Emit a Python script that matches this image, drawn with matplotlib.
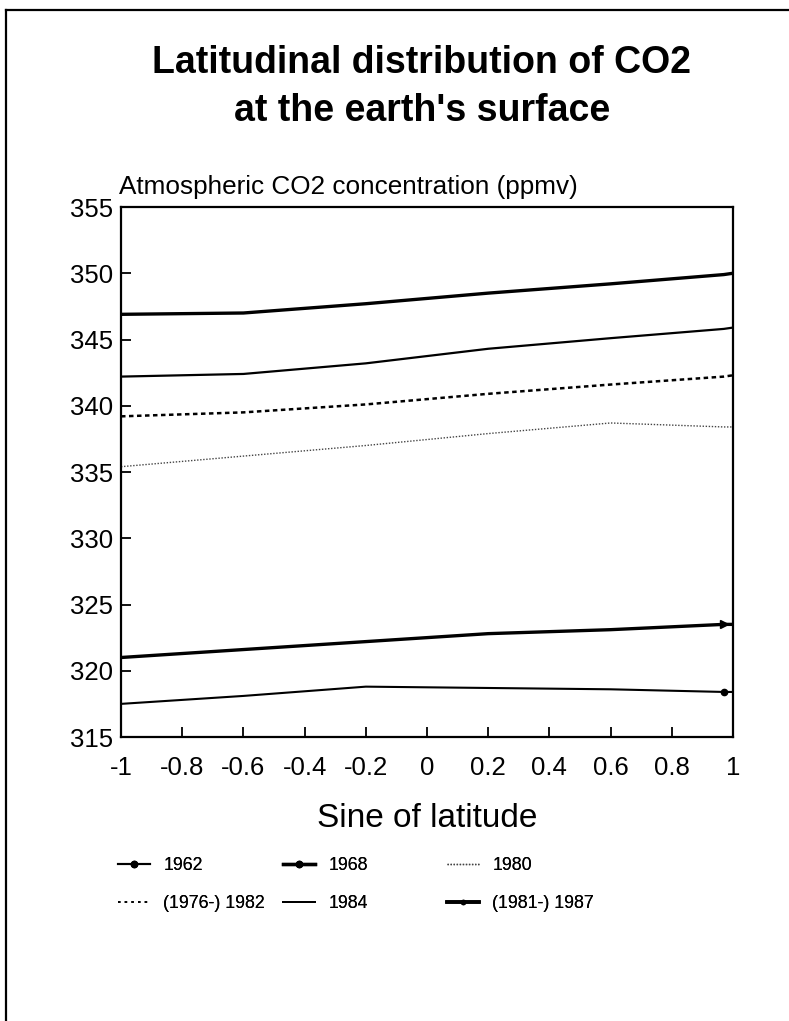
import matplotlib
matplotlib.use("Agg")
import matplotlib.pyplot as plt
from matplotlib.lines import Line2D

plt.rcParams['font.family'] = ['Liberation Sans', 'DejaVu Sans']

# Data
sine_lat = [-1.0, -0.6, -0.2, 0.2, 0.6, 0.97, 1.0]
co2_1962 = [317.5, 318.1, 318.8, 318.7, 318.6, 318.4, 318.4]
co2_1968 = [321.0, 321.6, 322.2, 322.8, 323.1, 323.5, 323.5]
co2_1980 = [335.4, 336.2, 337.0, 337.9, 338.7, 338.4, 338.4]
co2_1982 = [339.2, 339.5, 340.1, 340.9, 341.6, 342.2, 342.3]
co2_1984 = [342.2, 342.4, 343.2, 344.3, 345.1, 345.8, 345.9]
co2_1987 = [346.9, 347.0, 347.7, 348.5, 349.2, 349.9, 350.0]
labels = ["1962", "1968", "1980", "(1976-) 1982", "1984", "(1981-) 1987"]
xticks = [-1, -0.8, -0.6, -0.4, -0.2, 0, 0.2, 0.4, 0.6, 0.8, 1]
xticklabels = ["-1", "-0.8", "-0.6", "-0.4", "-0.2", "0", "0.2", "0.4", "0.6", "0.8", "1"]
yticks = [315, 320, 325, 330, 335, 340, 345, 350, 355]

W, H = 789, 1021
fig = plt.figure(figsize=(W / 100, H / 100), dpi=100)
ax = fig.add_axes([121 / W, 1 - 737 / H, (733 - 121) / W, (737 - 207) / H])

l62, = ax.plot(sine_lat, co2_1962, color='black', lw=1.5, marker='o', ms=4.5, markevery=[5])
l68, = ax.plot(sine_lat, co2_1968, color='black', lw=2.4, marker='>', ms=6, markevery=[5])
l80, = ax.plot(sine_lat, co2_1980, color='#444444', lw=1.0, ls=(0, (1, 1.2)))
l82, = ax.plot(sine_lat, co2_1982, color='black', lw=1.8, ls=(0, (1.8, 1.4)))
l84, = ax.plot(sine_lat, co2_1984, color='black', lw=1.6)
l87, = ax.plot(sine_lat, co2_1987, color='black', lw=2.4)

ax.set_xlim(-1, 1)
ax.set_ylim(315, 355)
ax.set_xticks(xticks)
ax.set_xticklabels(xticklabels)
ax.set_yticks(yticks)
ax.tick_params(axis='both', direction='in', length=7, width=1.3, labelsize=18.5, colors='black')
ax.tick_params(axis='x', pad=14)
ax.tick_params(axis='y', pad=6)
for s in ax.spines.values():
    s.set_linewidth(1.6)

ax.set_xlabel("Sine of latitude", fontsize=24, labelpad=16)

fig.text(119 / W, 1 - 187 / H, "Atmospheric CO2 concentration (ppmv)", fontsize=18.8,
         ha='left', va='center')

fig.text(422 / W, 1 - 73 / H, "Latitudinal distribution of CO2", fontsize=27,
         fontweight='bold', ha='center', va='baseline')
fig.text(422 / W, 1 - 121 / H, "at the earth's surface", fontsize=27,
         fontweight='bold', ha='center', va='baseline')

# legend: three columns placed individually
h62 = Line2D([], [], color='black', lw=1.5, marker='o', ms=4.5, markevery=[1])
h68 = Line2D([], [], color='black', lw=2.4, marker='o', ms=4.5, markevery=[1])
h80 = Line2D([], [], color='#444444', lw=1.0, ls=(0, (1, 1.2)))
h82 = Line2D([], [], color='black', lw=1.2, ls=(0, (1.5, 2.5)))
h84 = Line2D([], [], color='black', lw=1.4)
h87 = Line2D([], [], color='black', lw=2.6, marker='o', ms=3, markevery=[0])
cols = [([h62, h82], [labels[0], labels[3]], 118),
        ([h68, h84], [labels[1], labels[4]], 283),
        ([h80, h87], [labels[2], labels[5]], 447)]
for handles, labs, x0 in cols:
    leg = fig.legend(handles, labs, loc='upper left', bbox_to_anchor=(x0 / W, 1 - 857 / H),
                     frameon=False, fontsize=12.8, handlelength=1.8, handletextpad=0.75,
                     labelspacing=1.2, borderpad=0, borderaxespad=0)
    fig.add_artist(leg)

# scanned page frame (top and left border)
fig.add_artist(Line2D([6 / W, 1], [1 - 10 / H, 1 - 10 / H], color='black', lw=1.6, transform=fig.transFigure))
fig.add_artist(Line2D([6 / W, 6 / W], [0, 1 - 10 / H], color='black', lw=1.6, transform=fig.transFigure))

fig.savefig("out.png", dpi=100)
